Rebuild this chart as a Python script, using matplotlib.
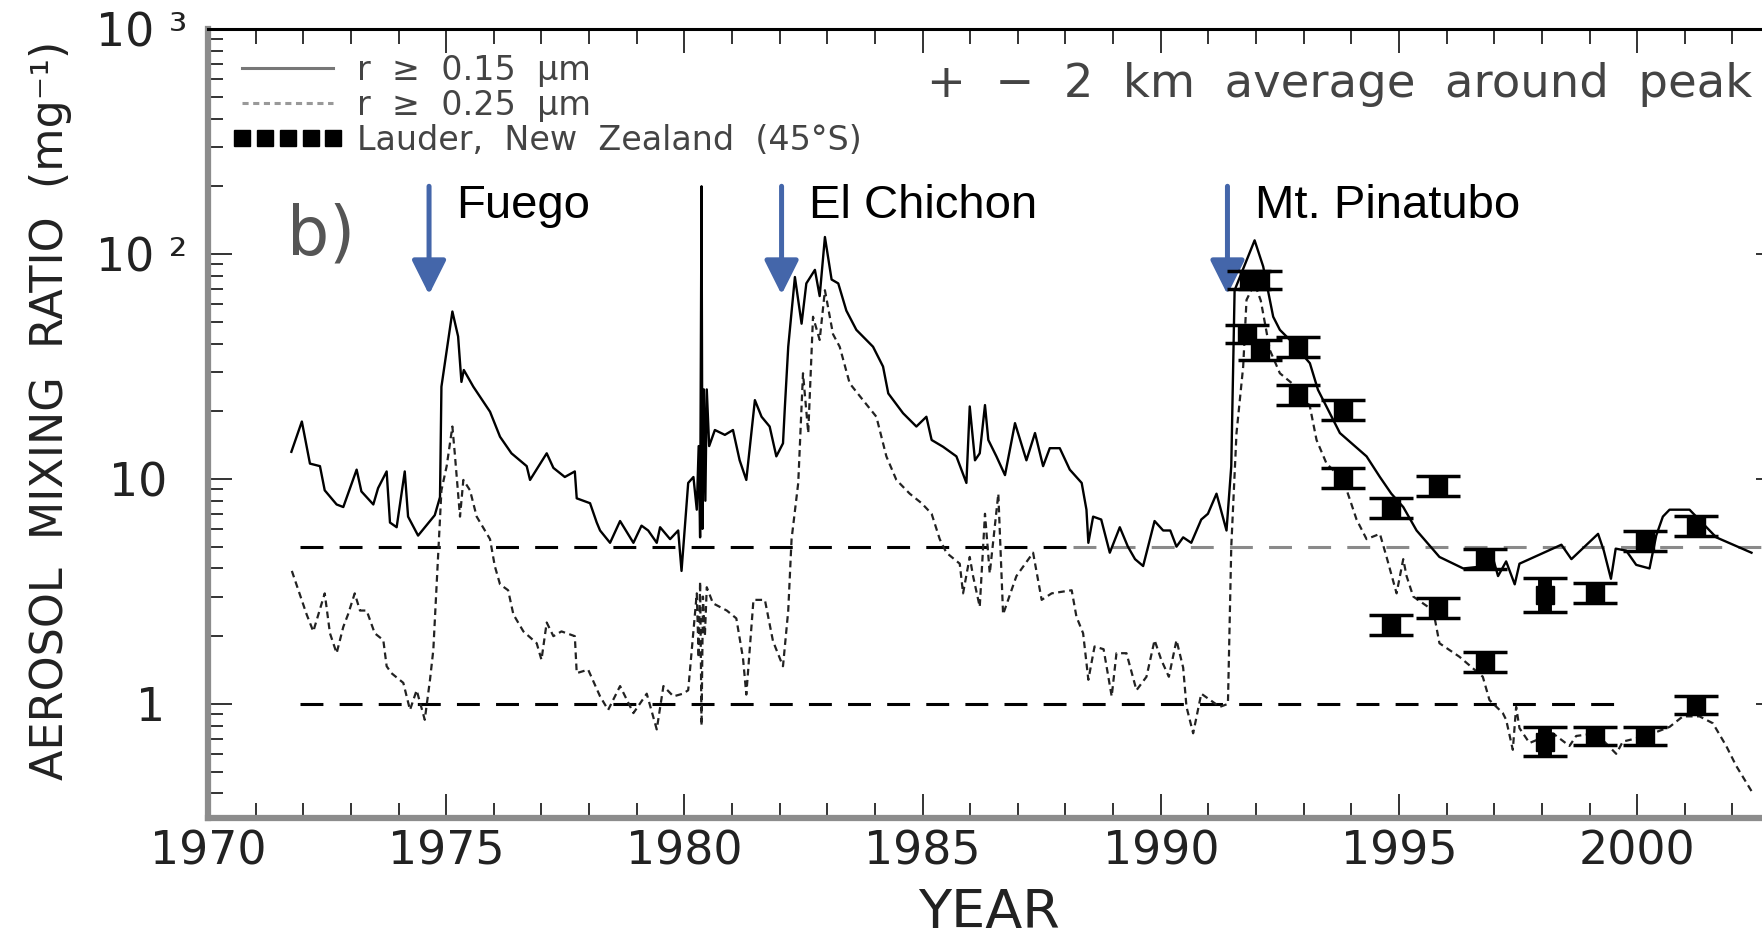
import numpy as np
import matplotlib.pyplot as plt
from matplotlib.lines import Line2D
from matplotlib.ticker import MultipleLocator, LogLocator, NullFormatter

# r >= 0.15 um, +-2 km around the peak
yr_15 = [1971.75, 1971.97, 1972.14, 1972.35, 1972.45, 1972.70, 1972.84, 1973.12, 1973.22, 1973.47,
         1973.57, 1973.75, 1973.82, 1973.96, 1974.13, 1974.20, 1974.41, 1974.76, 1974.87, 1974.90,
         1975.13, 1975.25, 1975.32, 1975.37, 1975.57, 1975.92, 1976.13, 1976.37, 1976.69, 1976.76,
         1977.11, 1977.25, 1977.49, 1977.70, 1977.74, 1978.02, 1978.16, 1978.23, 1978.44, 1978.65,
         1978.93, 1979.10, 1979.24, 1979.42, 1979.49, 1979.70, 1979.87, 1979.94, 1980.08, 1980.19,
         1980.26, 1980.30, 1980.33, 1980.36, 1980.38, 1980.41, 1980.44, 1980.47, 1980.52, 1980.64,
         1980.85, 1981.02, 1981.16, 1981.30, 1981.48, 1981.62, 1981.79, 1981.93, 1982.07, 1982.11,
         1982.18, 1982.32, 1982.46, 1982.56, 1982.74, 1982.84, 1982.95, 1983.09, 1983.23, 1983.40,
         1983.61, 1983.96, 1984.17, 1984.28, 1984.59, 1984.87, 1985.08, 1985.19, 1985.43, 1985.71,
         1985.92, 1985.99, 1986.10, 1986.20, 1986.31, 1986.38, 1986.55, 1986.73, 1986.94, 1987.18,
         1987.36, 1987.53, 1987.67, 1987.88, 1988.09, 1988.34, 1988.44, 1988.48, 1988.58, 1988.75,
         1988.93, 1989.14, 1989.31, 1989.46, 1989.63, 1989.87, 1990.05, 1990.20, 1990.33, 1990.47,
         1990.64, 1990.85, 1990.99, 1991.17, 1991.38, 1991.48, 1991.55, 1991.97, 1992.15, 1992.36,
         1992.50, 1992.71, 1993.13, 1993.30, 1993.76, 1994.32, 1994.60, 1994.84, 1995.09, 1995.37,
         1995.85, 1996.35, 1996.69, 1996.98, 1997.08, 1997.25, 1997.43, 1997.53, 1998.41, 1998.62,
         1999.18, 1999.30, 1999.45, 1999.55, 1999.77, 1999.98, 2000.26, 2000.40, 2000.54, 2000.68,
         2001.10, 2001.66, 2002.40]
mr_15 = [13.2, 18, 11.7, 11.4, 8.9, 7.7, 7.5, 11.0, 8.8, 7.7,
         9.1, 10.8, 6.4, 6.1, 10.8, 6.8, 5.6, 6.9, 8.3, 25.7,
         55.5, 43, 27, 30.5, 25.7, 19.9, 15.4, 13.0, 11.4, 9.9,
         13.0, 11.2, 10.2, 10.8, 8.2, 7.8, 6.4, 5.9, 5.2, 6.5,
         5.2, 6.2, 5.9, 5.2, 6.1, 5.4, 5.9, 3.9, 9.6, 10.2,
         7.3, 14, 5.5, 200, 6, 25, 8, 25, 14, 16.5,
         15.7, 16.5, 12.1, 9.9, 22.4, 18.9, 17.1, 12.6, 14.4, 21,
         38.7, 79, 49, 74, 85, 65, 119, 77, 74, 56,
         46, 38.7, 31.6, 24, 19.6, 17.1, 18.9, 14.9, 13.9, 12.6,
         9.6, 21, 12.1, 13, 21.3, 14.9, 12.6, 10.4, 17.7, 12.1,
         16, 11.4, 13.7, 13.7, 11, 9.6, 7.3, 5.2, 6.8, 6.6,
         4.7, 6.1, 5.0, 4.4, 4.1, 6.5, 5.9, 5.9, 5.0, 5.5,
         5.2, 6.6, 7.0, 8.6, 5.9, 11.4, 69, 115, 88, 52.6,
         46, 41.5, 32.7, 24.9, 16, 12.6, 10.2, 8.6, 7.5, 5.9,
         4.5, 4.0, 4.07, 4.4, 3.7, 4.3, 3.4, 4.2, 5.1, 4.4,
         5.7, 4.8, 3.6, 4.9, 4.8, 4.15, 4.0, 5.6, 6.8, 7.3,
         7.3, 5.5, 4.7]

# r >= 0.25 um
yr_25 = [1971.76, 1972.07, 1972.21, 1972.45, 1972.56, 1972.70, 1972.84, 1972.94, 1973.08, 1973.19,
         1973.33, 1973.50, 1973.68, 1973.75, 1973.85, 1974.10, 1974.24, 1974.38, 1974.55, 1974.66,
         1974.73, 1974.80, 1974.90, 1975.01, 1975.13, 1975.18, 1975.29, 1975.36, 1975.50, 1975.64,
         1975.92, 1976.02, 1976.13, 1976.30, 1976.41, 1976.62, 1976.90, 1977.00, 1977.11, 1977.25,
         1977.42, 1977.70, 1977.74, 1977.98, 1978.23, 1978.40, 1978.65, 1978.93, 1979.21, 1979.42,
         1979.56, 1979.77, 1979.97, 1980.08, 1980.26, 1980.30, 1980.33, 1980.36, 1980.39, 1980.43,
         1980.47, 1980.60, 1980.89, 1981.09, 1981.23, 1981.30, 1981.45, 1981.69, 1981.86, 1982.07,
         1982.18, 1982.25, 1982.39, 1982.49, 1982.60, 1982.70, 1982.84, 1982.95, 1983.12, 1983.26,
         1983.47, 1983.75, 1984.03, 1984.24, 1984.45, 1984.73, 1984.98, 1985.19, 1985.36, 1985.50,
         1985.78, 1985.85, 1985.99, 1986.06, 1986.20, 1986.31, 1986.41, 1986.59, 1986.69, 1986.97,
         1987.32, 1987.50, 1987.71, 1988.13, 1988.23, 1988.37, 1988.48, 1988.61, 1988.80, 1988.97,
         1989.07, 1989.28, 1989.49, 1989.70, 1989.87, 1990.01, 1990.17, 1990.33, 1990.47, 1990.54,
         1990.68, 1990.85, 1991.24, 1991.41, 1991.48, 1991.59, 1991.73, 1991.80, 1991.97, 1992.10,
         1992.29, 1992.50, 1992.92, 1993.13, 1993.27, 1993.48, 1993.83, 1993.97, 1994.11, 1994.32,
         1994.60, 1994.74, 1994.95, 1995.09, 1995.16, 1995.30, 1995.72, 1995.85, 1996.27, 1996.76,
         1996.90, 1997.18, 1997.25, 1997.39, 1997.46, 1997.53, 1997.74, 1998.23, 1998.58, 1998.72,
         1999.14, 1999.56, 1999.70, 2000.19, 2000.68, 2000.96, 2001.31, 2001.59, 2001.87, 2002.08,
         2002.43]
mr_25 = [3.9, 2.5, 2.1, 3.1, 2.06, 1.68, 2.2, 2.5, 3.1, 2.6,
         2.6, 2.06, 1.92, 1.47, 1.37, 1.24, 0.94, 1.15, 0.85, 1.28,
         1.74, 3.4, 8.9, 11.4, 17.1, 13, 6.8, 9.9, 8.9, 6.8,
         5.4, 4.1, 3.4, 3.2, 2.5, 2.1, 1.86, 1.57, 2.3, 2.0,
         2.1, 2.0, 1.37, 1.42, 1.08, 0.94, 1.2, 0.91, 1.11, 0.77,
         1.2, 1.08, 1.11, 1.15, 3.1, 1.6, 3.5, 0.8, 3.0, 2.0,
         3.3, 2.8, 2.6, 2.4, 1.6, 1.1, 2.9, 2.9, 1.9, 1.47,
         2.6, 5.4, 9.6, 29.5, 16, 52.6, 41.5, 69, 44, 38.7,
         26.6, 22.4, 18.9, 12.6, 9.9, 8.6, 7.8, 7.0, 5.4, 4.7,
         4.2, 3.1, 4.5, 3.7, 2.7, 7.0, 3.8, 8.6, 2.5, 3.7,
         4.7, 2.9, 3.1, 3.2, 2.44, 2.06, 1.28, 1.8, 1.75, 1.08,
         1.68, 1.68, 1.15, 1.32, 1.92, 1.57, 1.32, 1.92, 1.45, 0.97,
         0.74, 1.11, 0.97, 1.0, 5.0, 16, 31.6, 62.5, 74, 62,
         37.4, 29.5, 24.9, 21, 14.9, 11.7, 9.9, 8.1, 6.6, 5.4,
         5.7, 4.5, 3.1, 4.4, 3.7, 3.0, 2.6, 1.86, 1.62, 1.32,
         1.04, 0.91, 0.85, 0.625, 0.97, 0.78, 0.67, 0.74, 0.65, 0.72,
         0.74, 0.60, 0.68, 0.72, 0.79, 0.88, 0.88, 0.82, 0.65, 0.53,
         0.40]

# Lauder, New Zealand balloon soundings (error half-width in decades)
lau_yr_15 = [1991.85, 1992.08, 1992.88, 1993.83, 1994.84, 1995.82, 1996.80, 1998.06, 1999.11, 2000.16, 2001.24]
lau_15 = [77, 77, 38.7, 20.3, 7.4, 9.3, 4.4, 3.05, 3.1, 5.3, 6.2]
lau_err_15 = [0.04, 0.04, 0.045, 0.045, 0.045, 0.045, 0.045, 0.075, 0.045, 0.045, 0.045]
lau_yr_25 = [1991.80, 1992.08, 1992.88, 1993.83, 1994.84, 1995.82, 1996.80, 1998.06, 1999.11, 2000.16, 2001.24]
lau_25 = [44, 37.4, 23.6, 10.1, 2.24, 2.66, 1.54, 0.68, 0.72, 0.72, 0.99]
lau_err_25 = [0.04, 0.045, 0.045, 0.045, 0.045, 0.045, 0.045, 0.065, 0.04, 0.04, 0.04]

volcanoes = ['Fuego', 'El Chichon', 'Mt. Pinatubo']
eruption_yr = [1974.64, 1982.04, 1991.40]

# y axis labels at the decades
ytick_vals = [1, 10, 100, 1000]
ytick_text = ['1', '10', '10 ²', '10 ³']

# background levels
bg_levels = [5, 1]
bg_start = 1971.93
bg5_fade = 1988.15
bg1_end = 1999.7

blue = '#4466AA'

fig = plt.figure(figsize=(17.62, 9.40), dpi=100)
ax = fig.add_axes([0.11805, 0.1298, 0.8922, 0.8393])
ax.set_yscale('log')
ax.set_xlim(1970, 2003)
ax.set_ylim(0.311, 1000)

# background lines
dash_bg = (0, (7.5, 5.3))
ax.plot([bg_start, bg5_fade], [bg_levels[0]] * 2, color='black', lw=2.2, ls=dash_bg)
ax.plot([bg5_fade, 2003], [bg_levels[0]] * 2, color='#8a8a8a', lw=2.2, ls=dash_bg)
ax.plot([bg_start, bg1_end], [bg_levels[1]] * 2, color='black', lw=2.2, ls=dash_bg)

ax.plot(yr_15, mr_15, color='black', lw=1.7)
ax.plot(yr_25, mr_25, color='#222222', lw=1.6, ls=(0, (3, 2)))

for yrs, vals, err in [(lau_yr_15, lau_15, lau_err_15), (lau_yr_25, lau_25, lau_err_25)]:
    v = np.array(vals)
    e = np.array(err)
    yerr = [v - v * 10 ** -e, v * 10 ** e - v]
    ax.errorbar(yrs, v, yerr=yerr, fmt='s', color='black', ms=13,
                elinewidth=10, capsize=15.5, capthick=2.5, zorder=5)

# eruption markers
for name, yr in zip(volcanoes, eruption_yr):
    ax.annotate('', xy=(yr, 66), xytext=(yr, 200),
                arrowprops=dict(arrowstyle='-|>,head_length=1.0,head_width=0.5',
                                mutation_scale=21, color=blue, lw=3.6,
                                shrinkA=0, shrinkB=0))
    ax.annotate(name, xy=(yr, 145), xytext=(19.5, 0), textcoords='offset points',
                fontsize=34, family=['Liberation Sans', 'DejaVu Sans'],
                va='baseline', ha='left', color='black')

# axes styling
for side in ['left', 'bottom']:
    ax.spines[side].set_color('#8c8c8c')
    ax.spines[side].set_linewidth(4.5)
ax.spines['top'].set_color('black')
ax.spines['top'].set_linewidth(2.2)
ax.spines['right'].set_color('#555555')

ax.xaxis.set_major_locator(MultipleLocator(5))
ax.xaxis.set_minor_locator(MultipleLocator(1))
ax.yaxis.set_major_locator(LogLocator(base=10))
ax.yaxis.set_minor_locator(LogLocator(base=10, subs=np.arange(2, 10)))
ax.yaxis.set_major_formatter(NullFormatter())
ax.yaxis.set_minor_formatter(NullFormatter())

ax.tick_params(which='both', direction='in', top=True, right=True, color='#333333')
ax.tick_params(which='major', length=17, width=1.4, labelsize=33, labelcolor='#222222')
ax.tick_params(which='minor', length=11, width=1.4)
ax.tick_params(axis='x', pad=8)

# decade labels: the exponent forms sit further right than the plain numbers
ylab_x = [-0.0275, -0.0262, -0.0134, -0.0134]
ytrans = ax.get_yaxis_transform()
for val, txt, xa in zip(ytick_vals, ytick_text, ylab_x):
    ax.text(xa, val, txt, transform=ytrans, ha='right', va='center_baseline',
            fontsize=33, color='#222222')

ax.set_xlabel('YEAR', fontsize=39, color='#222222')
ax.xaxis.set_label_coords(0.4968, -0.121)
ax.xaxis.label.set_va('center')
ax.set_ylabel('AEROSOL  MIXING  RATIO  (mg⁻¹)', fontsize=32, color='#222222')
ax.yaxis.set_label_coords(-0.1005, 0.517)
ax.yaxis.label.set_va('center')

ax.text(0.0503, 0.7136, 'b)', transform=ax.transAxes, fontsize=48, color='#555555',
        va='baseline', ha='left')
ax.text(0.4574, 0.930, '+  −  2  km  average  around  peak', transform=ax.transAxes,
        fontsize=33.5, color='#444444', va='center', ha='left')

handles = [Line2D([], [], color='#777777', lw=2.2),
           Line2D([], [], color='#999999', lw=2.2, ls=(0, (2, 1.5))),
           Line2D([], [], ls='none', marker='s', ms=12, color='black')]
labels = ['r  ≥  0.15  μm', 'r  ≥  0.25  μm', 'Lauder,  New  Zealand  (45°S)']
leg = ax.legend(handles, labels, loc='upper left', bbox_to_anchor=(0.0153, 0.969),
                frameon=False, fontsize=24, handlelength=3.34, handletextpad=0.4,
                labelspacing=0.06, borderpad=0, borderaxespad=0, numpoints=5)
for t in leg.get_texts():
    t.set_color('#444444')

fig.savefig('out.png', dpi=100)
